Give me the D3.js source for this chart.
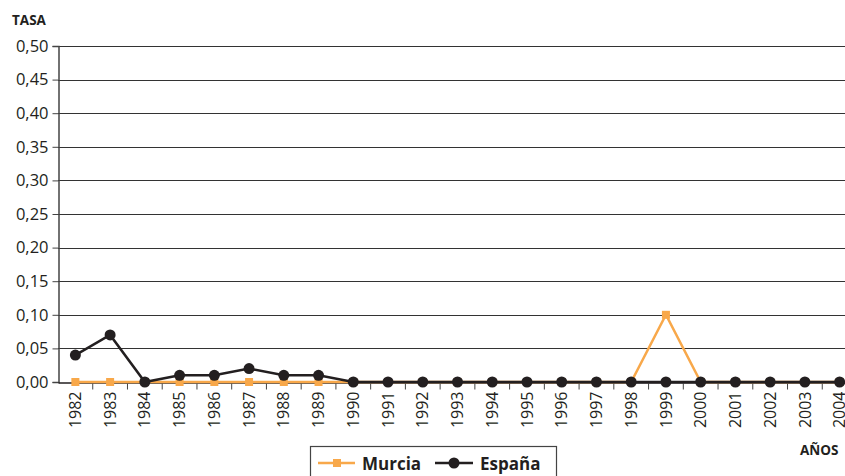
<!DOCTYPE html>
<html>
<head>
<meta charset="utf-8">
<script src="https://cdn.jsdelivr.net/npm/d3@7"></script>
<style>
  body { margin: 0; background: #fff; overflow: hidden; }
  text { font-family: "Open Sans", "DejaVu Sans", sans-serif; fill: #231f20; }
</style>
</head>
<body>
<div id="chart"></div>
<script>
var years = ["1982","1983","1984","1985","1986","1987","1988","1989","1990","1991","1992","1993",
             "1994","1995","1996","1997","1998","1999","2000","2001","2002","2003","2004"];
var murcia = [0,0,0,0,0,0,0,0,0,0,0,0,0,0,0,0,0,0.10,0,0,0,0,0];
var espana = [0.04,0.07,0,0.01,0.01,0.02,0.01,0.01,0,0,0,0,0,0,0,0,0,0,0,0,0,0,0];
var yTicks = [0,0.05,0.10,0.15,0.20,0.25,0.30,0.35,0.40,0.45,0.50];

var orange = "#f8a84a", dark = "#231f20";

var svg = d3.select("#chart").append("svg")
    .attr("width", 845).attr("height", 476);

var x = d3.scaleBand().domain(years).range([58, 857]);
var y = d3.scaleLinear().domain([0, 0.5]).range([382, 46]);
var fmt = function(d) { return d3.format(".2f")(d).replace(".", ","); };

// gridlines
svg.append("g").selectAll("line")
    .data(yTicks.slice(1))
  .enter().append("line")
    .attr("x1", 58).attr("x2", 857)
    .attr("y1", function(d) { return Math.round(y(d)) + 0.5; })
    .attr("y2", function(d) { return Math.round(y(d)) + 0.5; })
    .style("stroke", "#333").style("stroke-width", 1.2);

// y axis
var yAxis = svg.append("g")
    .attr("transform", "translate(58.5,0)")
    .call(d3.axisLeft(y).tickValues(yTicks).tickFormat(fmt).tickSize(6).tickPadding(4));
yAxis.select(".domain").style("stroke", "#444").style("stroke-width", 1.5);
yAxis.selectAll(".tick line").style("stroke", "#444");
yAxis.selectAll("text").style("font-size", "16.5px").style("fill", dark);

// x axis
var xAxis = svg.append("g")
    .attr("transform", "translate(0,382.5)")
    .call(d3.axisBottom(x).tickSize(0).tickPadding(0));
xAxis.select(".domain").style("stroke", dark).style("stroke-width", 1.5);
xAxis.selectAll(".tick text")
    .attr("transform", "rotate(-90)")
    .attr("x", -9).attr("y", 0).attr("dy", "0.35em")
    .style("text-anchor", "end")
    .style("font-size", "16px").style("fill", dark);
xAxis.selectAll(".sep")
    .data(years.slice(1))
  .enter().append("line")
    .attr("class", "sep")
    .attr("x1", function(d) { return x(d); })
    .attr("x2", function(d) { return x(d); })
    .attr("y1", 0).attr("y2", 7)
    .style("stroke", "#444");

// axis titles
svg.append("text").attr("x", 12).attr("y", 25)
    .style("font-size", "13.5px").style("font-weight", "bold").text("TASA");
svg.append("text").attr("x", 800).attr("y", 455)
    .style("font-size", "13.5px").style("font-weight", "bold").text("AÑOS");

var cx = function(d, i) { return x(years[i]) + x.bandwidth() / 2; };
var line = d3.line()
    .x(function(d, i) { return x(years[i]) + x.bandwidth() / 2; })
    .y(function(d) { return y(d); });

// Murcia
svg.append("path").datum(murcia)
    .attr("d", line)
    .style("fill", "none").style("stroke", orange).style("stroke-width", 2.5);
svg.selectAll("rect.m").data(murcia).enter().append("rect")
    .attr("class", "m")
    .attr("x", function(d, i) { return cx(d, i) - 4; })
    .attr("y", function(d) { return y(d) - 4; })
    .attr("width", 8).attr("height", 8)
    .style("fill", orange);

// España
svg.append("path").datum(espana)
    .attr("d", line)
    .style("fill", "none").style("stroke", dark).style("stroke-width", 2.5);
svg.selectAll("circle.e").data(espana).enter().append("circle")
    .attr("class", "e")
    .attr("cx", cx)
    .attr("cy", function(d) { return y(d); })
    .attr("r", 5.5)
    .style("fill", dark);

// legend
var lg = svg.append("g");
lg.append("rect").attr("x", 310.5).attr("y", 446.5).attr("width", 246).attr("height", 40)
    .style("fill", "#fff").style("stroke", "#444").style("stroke-width", 1.2);
lg.append("line").attr("x1", 318).attr("x2", 355).attr("y1", 463).attr("y2", 463)
    .style("stroke", orange).style("stroke-width", 2.5);
lg.append("rect").attr("x", 333).attr("y", 459).attr("width", 8).attr("height", 8).style("fill", orange);
lg.append("text").attr("x", 362).attr("y", 469.5)
    .style("font-size", "17px").style("font-weight", "bold").text("Murcia");
lg.append("line").attr("x1", 435).attr("x2", 473).attr("y1", 463).attr("y2", 463)
    .style("stroke", dark).style("stroke-width", 2.5);
lg.append("circle").attr("cx", 454).attr("cy", 463).attr("r", 5.5).style("fill", dark);
lg.append("text").attr("x", 480).attr("y", 469.5)
    .style("font-size", "17px").style("font-weight", "bold").text("España");
</script>
</body>
</html>
